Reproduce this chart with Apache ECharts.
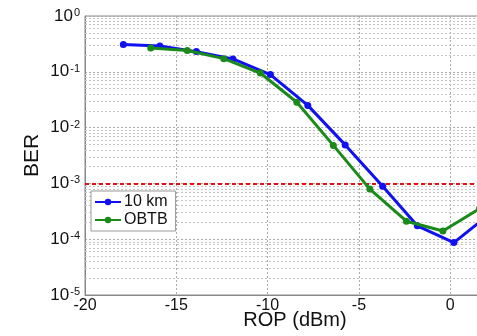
<!DOCTYPE html>
<html>
<head>
<meta charset="utf-8">
<script src="https://cdn.jsdelivr.net/npm/echarts@6/dist/echarts.min.js"></script>
<style>
  html, body { margin: 0; padding: 0; background: #fff; }
  #chart { width: 477px; height: 336px; }
</style>
</head>
<body>
<div id="chart"></div>
<script>
// ROP (dBm) / BER readings
const kmX = [-17.9, -15.9, -13.9, -11.9, -9.85, -7.8, -5.75, -3.7, -1.8, 0.2, 2.2]
const kmY = [0.31, 0.29, 0.23, 0.17, 0.089, 0.025, 0.0049, 8.9e-4, 1.74e-4, 8.7e-5, 2.9e-4]
const obtbX = [-16.4, -14.4, -12.4, -10.4, -8.4, -6.4, -4.4, -2.4, -0.4, 1.6]
const obtbY = [0.268, 0.24, 0.172, 0.095, 0.0285, 0.0048, 7.9e-4, 2.1e-4, 1.4e-4, 3.5e-4]
const fecLimit = 1e-3
const xTicks = [-20, -15, -10, -5, 0]
const decades = [-5, -4, -3, -2, -1]

// log minor grid lines (2..9 per decade)
const minorLines = []
decades.forEach(e => {
  for (let m = 2; m <= 9; m++) minorLines.push({ yAxis: m * Math.pow(10, e) })
})

const FONT = 'Liberation Sans, Arial, sans-serif'
const chart = echarts.init(document.getElementById('chart'))

chart.setOption({
  animation: false,
  backgroundColor: '#fff',
  textStyle: { fontFamily: FONT },
  grid: {
    left: 85, top: 16, bottom: 41, right: -28,
    outerBoundsMode: 'none',
    show: true, borderColor: '#888', borderWidth: 1, backgroundColor: '#fff'
  },
  legend: {
    data: ['10 km', 'OBTB'],
    orient: 'vertical',
    left: 91, top: 191,
    padding: [3, 8, 3, 3],
    itemGap: 2,
    itemWidth: 26, itemHeight: 8,
    backgroundColor: '#fff',
    borderColor: '#999', borderWidth: 1,
    z: 10,
    textStyle: { fontSize: 16, color: '#111', fontFamily: FONT, padding: [0, 0, 0, -2] }
  },
  xAxis: {
    type: 'value',
    min: -20, max: 3, interval: 5,
    name: 'ROP (dBm)', nameLocation: 'middle', nameGap: 15,
    nameMoveOverlap: false,
    nameTextStyle: { fontSize: 20, color: '#111', fontFamily: FONT },
    axisLine: { show: true, onZero: false, lineStyle: { color: '#888' } },
    axisTick: { show: false },
    axisLabel: {
      fontSize: 16, color: '#111', margin: 3, fontFamily: FONT,
      formatter: v => xTicks.includes(v) ? String(v) : ''
    },
    splitLine: { show: true, lineStyle: { color: '#aaa', type: [2, 2], width: 1 } }
  },
  yAxis: {
    type: 'log', logBase: 10,
    min: 1e-5, max: 1,
    name: 'BER', nameLocation: 'middle', nameGap: 42,
    nameMoveOverlap: false,
    nameTextStyle: { fontSize: 21, color: '#111', fontFamily: FONT },
    axisLine: { show: true, onZero: false, lineStyle: { color: '#888' } },
    axisTick: { show: false },
    axisLabel: {
      margin: 5, color: '#111',
      formatter: v => '{b|10}{s|' + Math.round(Math.log10(v)) + '}',
      rich: {
        b: { fontSize: 17, lineHeight: 17, padding: [3, 0, 0, 0], verticalAlign: 'bottom', fontFamily: FONT, color: '#111' },
        s: { fontSize: 11, lineHeight: 11, padding: [0, 0, 0, 1], verticalAlign: 'top', fontFamily: FONT, color: '#111' }
      }
    },
    splitLine: { show: true, lineStyle: { color: '#aaa', type: [2, 2], width: 1 } }
  },
  series: [
    {
      name: 'grid',
      type: 'line',
      data: [],
      silent: true,
      z: 1,
      markLine: {
        silent: true, symbol: 'none', label: { show: false },
        precision: 12, z: 1,
        lineStyle: { color: '#c4c4c4', type: [2, 2], width: 1 },
        data: minorLines
      }
    },
    {
      name: '10 km',
      type: 'line',
      data: kmX.map((x, i) => [x, kmY[i]]),
      color: '#1010f0',
      lineStyle: { width: 3 },
      symbol: 'circle', symbolSize: 7,
      z: 3
    },
    {
      name: 'OBTB',
      type: 'line',
      data: obtbX.map((x, i) => [x, obtbY[i]]),
      color: '#1a8a1a',
      lineStyle: { width: 3 },
      symbol: 'circle', symbolSize: 7,
      z: 4
    },
    {
      name: 'limit',
      type: 'line',
      data: [],
      silent: true,
      z: 2,
      markLine: {
        silent: true, symbol: 'none', label: { show: false },
        precision: 12, z: 2,
        lineStyle: { color: '#e01010', type: [4, 3], width: 1.8 },
        data: [{ yAxis: fecLimit }]
      }
    }
  ]
})
</script>
</body>
</html>
